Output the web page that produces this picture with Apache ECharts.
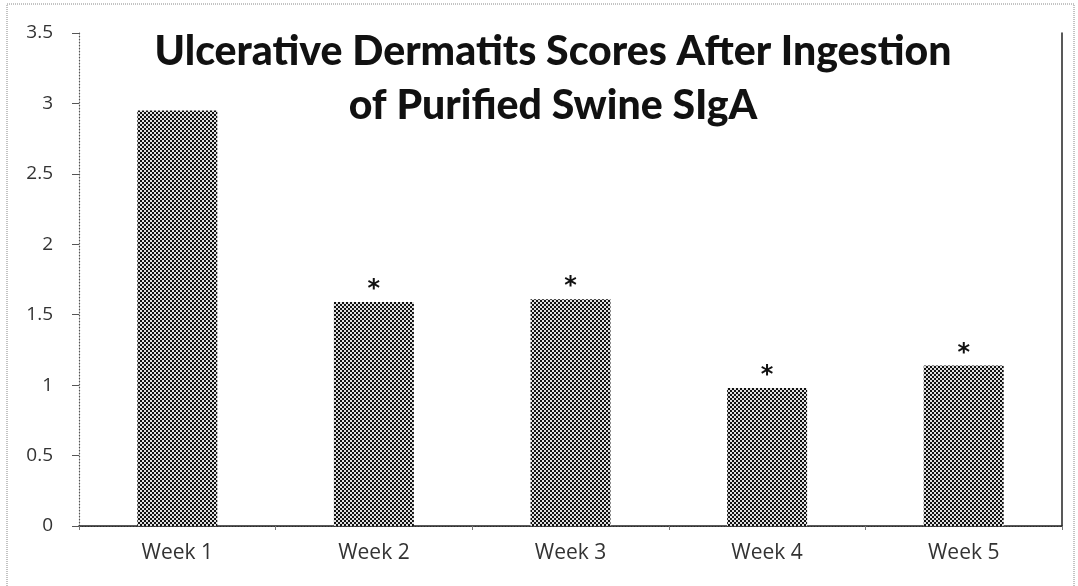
<!DOCTYPE html>
<html><head><meta charset="utf-8">
<script src="https://cdn.jsdelivr.net/npm/echarts@6/dist/echarts.min.js"></script>
<style>html,body{margin:0;padding:0;background:#fff}#c{width:1078px;height:586px}</style>
</head><body><div id="c"></div>
<script>
const categories = ['Week 1','Week 2','Week 3','Week 4','Week 5'];
const scores = [2.95, 1.59, 1.61, 0.98, 1.14];
const significance = ['', '*', '*', '*', '*'];
const titleText = 'Ulcerative Dermatits Scores After Ingestion\nof Purified Swine SIgA';

const pc = document.createElement('canvas');
pc.width = 4; pc.height = 4;
const g = pc.getContext('2d');
g.fillStyle = '#e0e0e0'; g.fillRect(0,0,4,4);
g.fillStyle = '#111';
g.fillRect(0,0,2,2); g.fillRect(2,2,2,2);

const chart = echarts.init(document.getElementById('c'), null, {renderer:'canvas'});
chart.setOption({
  animation: false,
  backgroundColor: '#fff',
  title: {
    text: titleText, left: 548, top: 20, textAlign: 'center',
    textStyle: {fontFamily: 'Lato', fontWeight: 900, fontSize: 41, color: '#111', lineHeight: 54}
  },
  graphic: [{
    type: 'rect', shape: {x: 7, y: 4, width: 1067, height: 590},
    style: {fill: 'none', stroke: '#888', lineWidth: 1, lineDash: [1, 1]}, silent: true
  }],
  grid: {left: 79, right: 16, top: 33, bottom: 60},
  xAxis: [{
    type: 'category', data: categories,
    axisLine: {lineStyle: {color: '#555', type: [1, 2], width: 1.2}},
    axisTick: {show: true, length: 4, lineStyle: {color: '#777'}},
    axisLabel: {fontFamily: 'Open Sans', fontSize: 21, color: '#333', margin: 17}
  }, {
    type: 'category', data: categories, position: 'top',
    axisLine: {lineStyle: {color: '#222', width: 1.5}},
    axisTick: {show: false}, axisLabel: {show: false}
  }],
  yAxis: [{
    type: 'value', min: 0, max: 3.5, interval: 0.5,
    splitLine: {show: false},
    axisLine: {show: true, lineStyle: {color: '#555', type: [1, 2], width: 1.2}},
    axisTick: {show: true, length: 7, lineStyle: {color: '#555'}},
    axisLabel: {fontFamily: 'Open Sans', fontSize: 19, color: '#333', margin: 26}
  }, {
    type: 'value', min: 0, max: 3.5, interval: 0.5, position: 'right',
    splitLine: {show: false},
    axisLine: {show: true, lineStyle: {color: '#222', width: 1.5}},
    axisTick: {show: false}, axisLabel: {show: false}
  }],
  series: [{
    type: 'bar', data: scores, barWidth: 80,
    itemStyle: {color: {image: pc, repeat: 'repeat'}},
    label: {
      show: true, position: 'top', distance: 0,
      formatter: p => significance[p.dataIndex],
      fontFamily: 'DejaVu Sans', fontSize: 24, fontWeight: 'bold', color: '#111'
    }
  }]
});
</script></body></html>
